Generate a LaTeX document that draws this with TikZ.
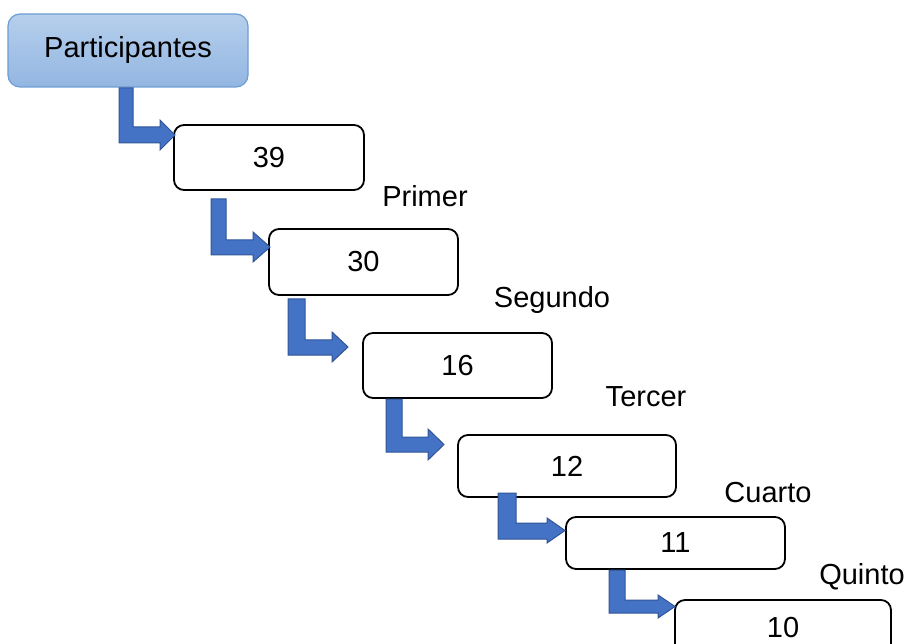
\documentclass[tikz,border=0pt]{standalone}
\usepackage{fontspec}
\setmainfont{Liberation Sans}
\definecolor{topblue}{HTML}{B6CFEC}
\definecolor{botblue}{HTML}{93B6E2}
\definecolor{edgeblue}{HTML}{6E9CD4}
\definecolor{arrowfill}{HTML}{4472C4}
\definecolor{arrowedge}{HTML}{2F5597}
\newcommand{\bentarrow}[9]{%
  \filldraw[bentstyle] (#1,#3) -- (#2,#3) -- (#2,#4) -- (#6,#4) -- (#6,#8)
    -- (#7,{(#8+#9)/2}) -- (#6,#9) -- (#6,#5) -- (#1,#5) -- cycle;}
\begin{document}
\begin{tikzpicture}[x=1pt,y=-1pt,
  every node/.style={font=\fontsize{29}{34}\selectfont},
  numbox/.style={draw=black,line width=1.8pt,rounded corners=10pt,fill=white,inner sep=0pt},
  headbox/.style={draw=edgeblue,line width=1.2pt,rounded corners=12pt,top color=topblue,bottom color=botblue,inner sep=0pt,minimum width=240pt,minimum height=73pt},
  lab/.style={inner sep=0pt},
  bentstyle/.style={fill=arrowfill,draw=arrowedge,line width=1pt,line join=miter}]
\useasboundingbox (0,0) rectangle (905,644);
\clip (0,0) rectangle (905,644);
\node[headbox] (p) at (128,50.5) {Participantes};
\node[numbox,minimum width=190pt,minimum height=65pt] (b1) at (269,157.5) {39};
\node[numbox,minimum width=189pt,minimum height=66pt] (b2) at (363.5,262) {30};
\node[numbox,minimum width=189pt,minimum height=65pt] (b3) at (457.5,365.5) {16};
\node[numbox,minimum width=218pt,minimum height=62pt] (b4) at (567,466) {12};
\node[numbox,minimum width=219pt,minimum height=52pt] (b5) at (675.5,543) {11};
\node[numbox,minimum width=216pt,minimum height=56pt] (b6) at (783,628) {10};
\node[lab] (l1) at (425,196) {Primer};
\node[lab] (l2) at (552,300) {Segundo};
\node[lab] (l3) at (646,397) {Tercer};
\node[lab] (l4) at (768,493) {Cuarto};
\node[lab] (l5) at (862,577) {Quinto};
% bent block arrows: x1 x2 ytop ybar1 ybar2 xhead xtip yh1 yh2
\bentarrow{119}{133}{88}{127}{143}{160}{175}{120}{150}
\bentarrow{211}{226}{199}{240}{255}{253}{270}{232}{262}
\bentarrow{288}{305}{299}{340}{355}{332}{348}{332}{362}
\bentarrow{386}{402}{399}{437}{452}{428}{444}{429}{460}
\bentarrow{498}{516}{493}{523}{539}{547}{565}{518}{543}
\bentarrow{609}{625}{570}{600}{613}{658}{675}{595}{618}
\end{tikzpicture}
\end{document}
